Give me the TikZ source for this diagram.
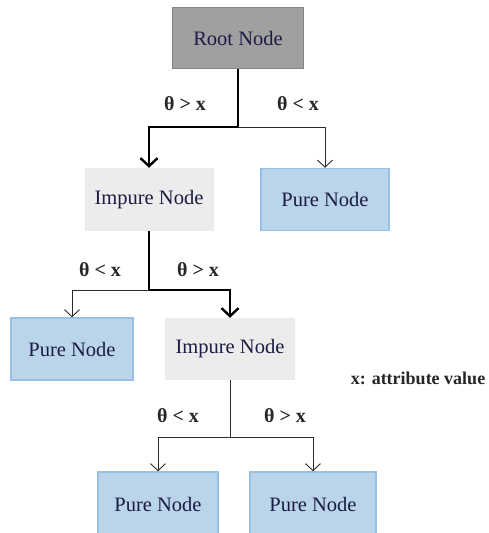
\documentclass[tikz,border=0pt]{standalone}
\usepackage{fontspec}
\setmainfont{Liberation Serif}
\usetikzlibrary{arrows.meta}
\definecolor{rootfill}{HTML}{A0A0A0}
\definecolor{rootline}{HTML}{858585}
\definecolor{impfill}{HTML}{ECECEC}
\definecolor{purefill}{HTML}{BAD5EA}
\definecolor{pureline}{HTML}{98C0E2}
\definecolor{ink}{HTML}{1C1C44}
\definecolor{wire}{HTML}{2A2A2A}
\tikzset{
  box/.style={minimum height=62pt, inner sep=0pt, font=\fontsize{20.5}{22}\selectfont, text=ink},
  rootbox/.style={box, fill=rootfill, draw=rootline, line width=1.5pt, minimum width=131pt},
  impbox/.style={box, fill=impfill, minimum width=129pt},
  purebox/.style={box, fill=purefill, draw=pureline, line width=1.5pt},
  thin/.style={draw=wire, line width=0.9pt, -{Straight Barb[length=7pt,width=15pt]}},
  thick/.style={draw=black, line width=2.4pt, -{Straight Barb[length=8pt,width=17pt]}},
  cond/.style={font=\bfseries\fontsize{20}{22}\selectfont, text=black!85}
}
\begin{document}
\begin{tikzpicture}[x=1pt, y=-1pt]
  \useasboundingbox (0,0) rectangle (489,533);

  % nodes
  \node[rootbox, minimum height=61pt] (root) at (238,38) {Root Node};
  \node[impbox, minimum height=63pt] (imp1) at (149,199.5) {Impure Node};
  \node[purebox, minimum width=128pt] (pureR) at (325,199.5) {Pure Node};
  \node[purebox, minimum width=122pt] (pureL) at (72,349) {Pure Node};
  \node[impbox, minimum width=130pt] (imp2) at (230,349) {Impure Node};
  \node[purebox, minimum width=120pt, minimum height=64pt] (pureBL) at (158,504) {Pure Node};
  \node[purebox, minimum width=126pt, minimum height=64pt] (pureBR) at (313,504) {Pure Node};

  % branching points
  \coordinate (j1) at (root.south |- 0,127);
  \coordinate (j2) at (imp1.south |- 0,290);
  \coordinate (j3) at (imp2.south |- 0,437);

  % level 1
  \draw[thick, -] (root.south) -- (j1);
  \draw[thick] (j1) -| (imp1.north);
  \draw[thin] (j1) -| (pureR.north);

  % level 2
  \draw[thick, -] (imp1.south) -- (j2);
  \draw[thick] (j2) -| (imp2.north);
  \draw[thin] (j2) -| (pureL.north);

  % level 3
  \draw[thin, -] (imp2.south) -- (j3);
  \draw[thin] (j3) -| (pureBL.north);
  \draw[thin] (j3) -| (pureBR.north);

  % split conditions
  \node[cond] (c1a) at (185,104) {θ > x};
  \node[cond] (c1b) at (298,104) {θ < x};
  \node[cond] (c2a) at (100,270) {θ < x};
  \node[cond] (c2b) at (198,270) {θ > x};
  \node[cond] (c3a) at (178,416) {θ < x};
  \node[cond] (c3b) at (285,416) {θ > x};

  % legend
  \node[font=\bfseries\fontsize{18}{20}\selectfont, text=black!85] (legend) at (418,378) {x: attribute value};
\end{tikzpicture}
\end{document}
